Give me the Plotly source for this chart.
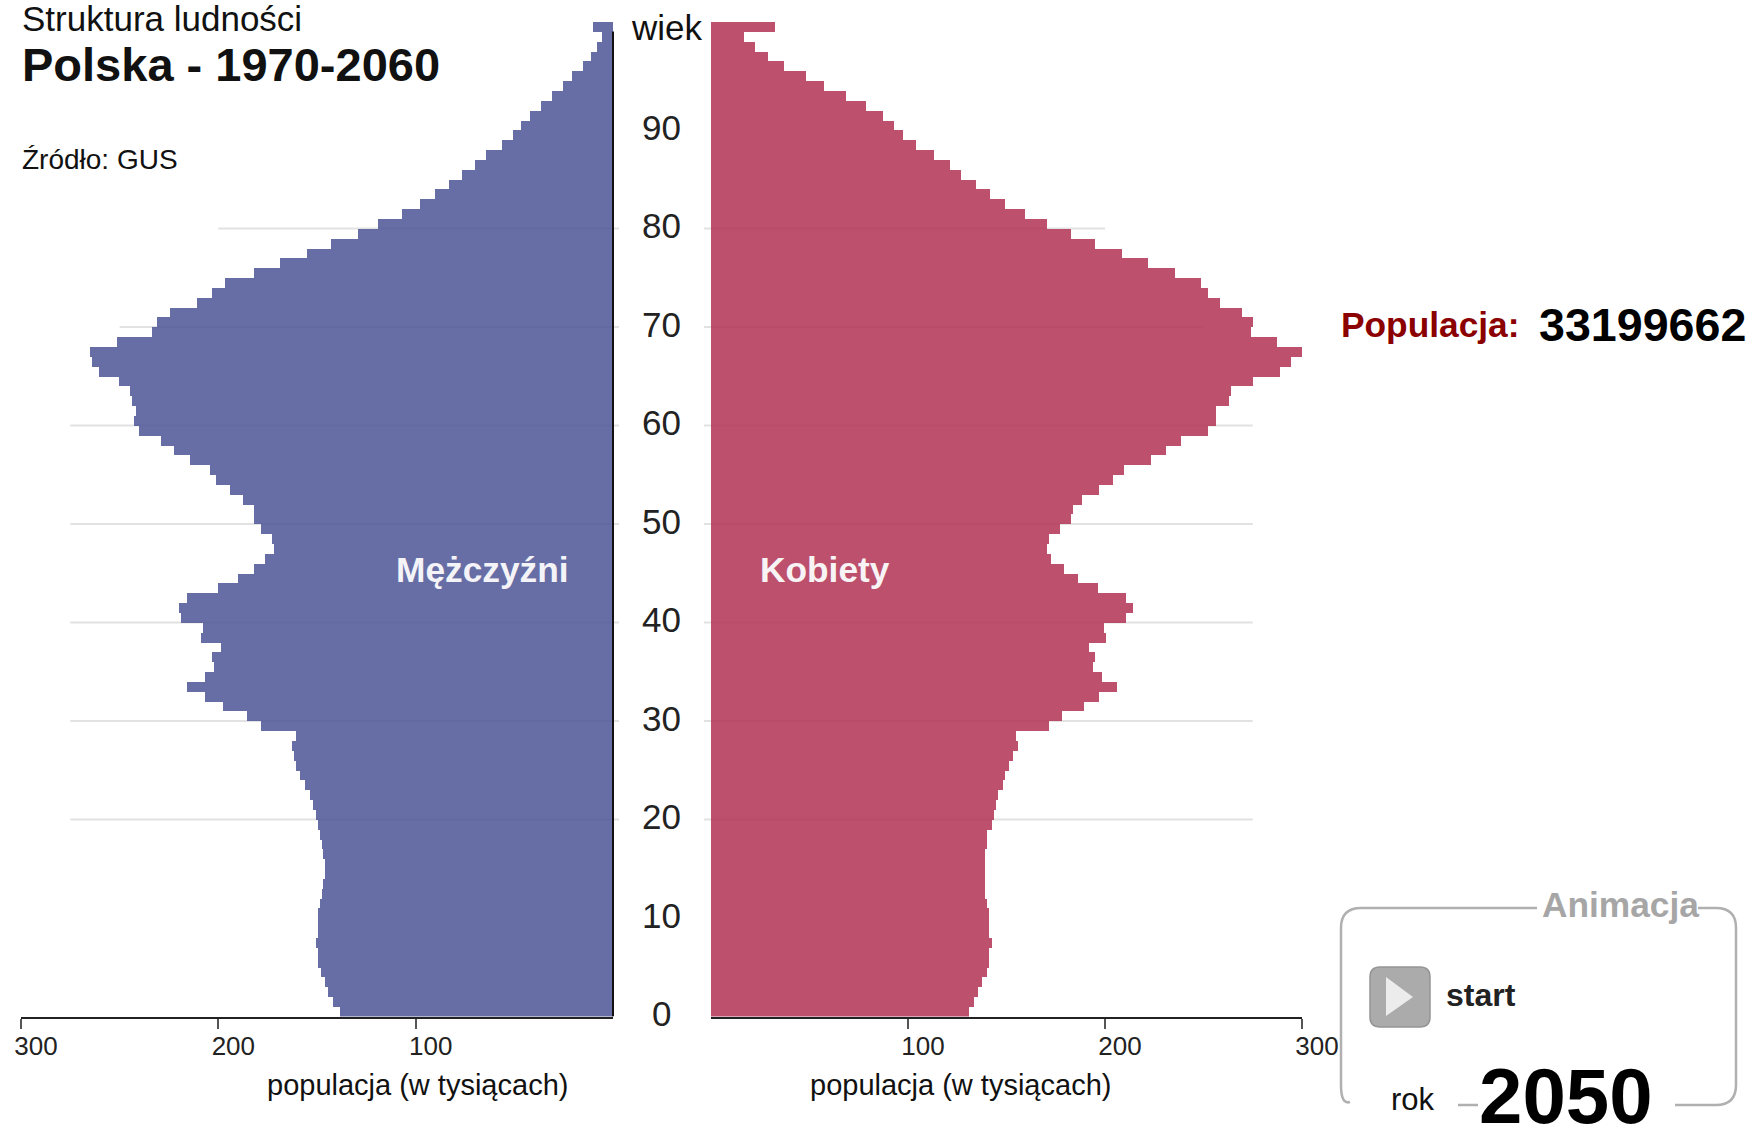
"""Piramida ludnosci Polski, rok 2050 (Plotly)."""

import plotly.graph_objects as go

WIDTH = 1753
HEIGHT = 1126

# wiek 0..100, populacja w tysiacach
men = [
    138.2, 141.8, 144.2, 146.2, 148.2, 149.6, 149.6, 150.6, 149.6, 149.6,
    149.4, 148.6, 147.6, 147.2, 146.2, 146.2, 146.8, 147.4, 148.4, 149.6,
    150.6, 152.2, 153.8, 156.2, 158.4, 160.6, 161.8, 162.9, 160.6, 178.5,
    185.3, 197.6, 206.6, 215.7, 206.6, 202.0, 203.2, 198.8, 208.8, 207.8,
    218.9, 220.1, 215.7, 200.0, 189.8, 181.9, 176.3, 171.9, 172.9, 178.5,
    181.9, 181.9, 187.6, 194.2, 201.0, 204.2, 214.5, 222.3, 228.9, 240.2,
    242.6, 241.6, 243.6, 244.6, 250.4, 260.4, 263.9, 264.9, 251.4, 233.5,
    231.3, 224.5, 211.0, 203.2, 196.4, 182.1, 168.5, 155.2, 142.8, 129.3,
    119.1, 106.8, 98.0, 90.0, 83.3, 76.5, 69.9, 64.3, 56.4, 50.8,
    46.4, 42.0, 36.3, 30.7, 25.1, 20.7, 15.1, 11.2, 8.2, 5.8,
    10.2,
]
women = [
    131.1, 133.3, 135.5, 137.8, 140.2, 141.2, 141.2, 142.4, 141.2, 141.2,
    141.2, 140.2, 139.0, 139.0, 139.0, 139.0, 139.0, 140.2, 140.2, 142.4,
    143.4, 144.6, 145.6, 148.0, 149.0, 151.2, 153.4, 155.8, 154.6, 171.5,
    178.1, 189.4, 197.2, 206.2, 198.4, 194.0, 195.0, 191.8, 200.6, 199.6,
    210.6, 214.1, 210.6, 196.2, 186.1, 179.3, 172.7, 170.5, 171.5, 177.1,
    182.7, 183.7, 188.4, 197.2, 204.0, 209.6, 223.1, 230.9, 238.8, 252.2,
    256.4, 256.4, 263.0, 264.0, 275.2, 288.7, 294.3, 301.2, 287.5, 274.2,
    275.2, 269.6, 258.6, 252.2, 248.8, 235.3, 221.9, 208.4, 195.0, 182.7,
    170.5, 159.2, 149.2, 141.4, 134.3, 126.7, 121.1, 113.3, 104.2, 97.6,
    93.0, 87.3, 78.5, 68.5, 57.2, 48.2, 36.9, 29.1, 22.3, 16.9,
    32.3,
]
ages = list(range(101))
age_ticks = [0, 10, 20, 30, 40, 50, 60, 70, 80, 90]
pop_ticks = [100, 200, 300]
grid_ages = [20, 30, 40, 50, 60, 70, 80]
grid_reach = [275, 275, 275, 275, 275, 250, 200]

BLUE = "rgba(76, 85, 151, 0.85)"
RED = "rgba(177, 49, 82, 0.85)"
GREY = "#b0b0b0"
FONT = "Liberation Sans"

# granice paneli w pikselach strony
LEFT_X0, LEFT_X1 = 21, 613
RIGHT_X0, RIGHT_X1 = 711, 1302
PLOT_TOP, PLOT_BOTTOM = 21.7, 1016.5


def px(x):
    return x / WIDTH


def py(y):
    return 1 - y / HEIGHT


def left_px(value):
    return LEFT_X1 - value * (LEFT_X1 - LEFT_X0) / 300


def right_px(value):
    return RIGHT_X0 + value * (RIGHT_X1 - RIGHT_X0) / 300


def label(text, x, y, size, color="#111111", bold=False, anchor="left"):
    return dict(
        text=f"<b>{text}</b>" if bold else text,
        xref="paper", yref="paper",
        x=px(x), y=py(y),
        xanchor=anchor, yanchor="middle",
        showarrow=False, borderpad=0,
        font=dict(family=FONT, size=size, color=color),
    )


fig = go.Figure()
bar_y = [a + 0.5 for a in ages]
fig.add_trace(go.Bar(
    x=men, y=bar_y, orientation="h", width=1, name="Mężczyźni",
    marker=dict(color=BLUE, line=dict(width=0)),
    xaxis="x", yaxis="y", showlegend=False, cliponaxis=False,
))
fig.add_trace(go.Bar(
    x=women, y=bar_y, orientation="h", width=1, name="Kobiety",
    marker=dict(color=RED, line=dict(width=0)),
    xaxis="x2", yaxis="y2", showlegend=False, cliponaxis=False,
))

shapes = []
for age, reach in zip(grid_ages, grid_reach):
    shapes.append(dict(
        type="line", layer="below", xref="paper", yref="y",
        x0=px(left_px(reach)), x1=px(619), y0=age, y1=age,
        line=dict(color="#e2e2e2", width=2),
    ))
    shapes.append(dict(
        type="line", layer="below", xref="paper", yref="y",
        x0=px(704), x1=px(right_px(reach)), y0=age, y1=age,
        line=dict(color="#e2e2e2", width=2),
    ))
# pionowa os lewego panelu
shapes.append(dict(
    type="line", xref="paper", yref="y",
    x0=px(613), x1=px(613), y0=0, y1=100,
    line=dict(color="#111111", width=2),
))


def box_path():
    # ramka "Animacja" z przerwami na napisy
    l, r, t, b, c = px(1341), px(1736), py(908), py(1105), 20
    cx, cy = c / WIDTH, c / HEIGHT
    return (
        f"M {px(1537)} {t} L {l + cx} {t} Q {l} {t} {l} {t - cy} "
        f"L {l} {b + cy} Q {l} {b} {px(1350)} {py(1102)} "
        f"M {px(1458)} {b} L {px(1478)} {b} "
        f"M {px(1675)} {b} L {r - cx} {b} Q {r} {b} {r} {b + cy} "
        f"L {r} {t - cy} Q {r} {t} {r - cx} {t} L {px(1698)} {t}"
    )


def button_path():
    l, r, t, b, c = px(1370), px(1430), py(967), py(1027), 10
    cx, cy = c / WIDTH, c / HEIGHT
    return (
        f"M {l + cx} {t} L {r - cx} {t} Q {r} {t} {r} {t - cy} "
        f"L {r} {b + cy} Q {r} {b} {r - cx} {b} L {l + cx} {b} "
        f"Q {l} {b} {l} {b + cy} L {l} {t - cy} Q {l} {t} {l + cx} {t} Z"
    )


shapes.append(dict(type="path", xref="paper", yref="paper", path=box_path(),
                   line=dict(color=GREY, width=2.5)))
shapes.append(dict(type="path", xref="paper", yref="paper", path=button_path(),
                   fillcolor="#ababab", line=dict(color="#959595", width=1.5)))
shapes.append(dict(
    type="path", xref="paper", yref="paper",
    path=(f"M {px(1386)} {py(977)} L {px(1413)} {py(997)} "
          f"L {px(1386)} {py(1016)} Z"),
    fillcolor="#ececec", line=dict(width=0),
))

annotations = [
    label("Struktura ludności", 21, 18, 35),
    label("Polska - 1970-2060", 21, 65, 47, bold=True),
    label("Źródło: GUS", 21, 159, 28),
    label("Mężczyźni", 395, 569, 35.3, color="#f4f4f8", bold=True),
    label("Kobiety", 759, 569, 35.3, color="#f8f4f5", bold=True),
    label("populacja (w tysiącach)", 417, 1085, 29, anchor="center"),
    label("populacja (w tysiącach)", 960, 1085, 29, anchor="center"),
    label("wiek", 667, 28, 35, anchor="center"),
    label("Populacja:", 1340, 324, 35.3, color="#8b0000", bold=True),
    label("33199662", 1538, 325, 46.6, color="#000000", bold=True),
    label("Animacja", 1541, 904, 35.3, color="#a6a6a6", bold=True),
    label("start", 1445, 995, 32, color="#222222", bold=True),
    label("rok", 1390, 1099, 31),
    label("2050", 1478, 1096, 78, color="#000000", bold=True),
]
for tick in age_ticks:
    annotations.append(dict(
        text=str(tick), xref="paper", yref="y", x=px(661), y=tick,
        yshift=3, xanchor="center", yanchor="middle", showarrow=False,
        font=dict(family=FONT, size=35, color="#222222"),
    ))

x_axis = dict(
    tickmode="array", tickvals=pop_ticks, ticktext=[str(t) for t in pop_ticks],
    ticks="outside", ticklen=10, tickwidth=2, tickcolor="#555555",
    ticklabelstandoff=-5, ticklabeloverflow="allow",
    tickfont=dict(family=FONT, size=26, color="#222222"),
    showgrid=False, zeroline=False, showline=True,
    linecolor="#222222", linewidth=2, layer="below traces",
    anchor="y",
)
y_axis = dict(range=[0, 101], visible=False,
              domain=[py(PLOT_BOTTOM), py(PLOT_TOP)])

fig.update_layout(
    width=WIDTH,
    height=HEIGHT,
    autosize=False,
    margin=dict(l=0, r=0, t=0, b=0, pad=0, autoexpand=False),
    paper_bgcolor="white",
    plot_bgcolor="rgba(0,0,0,0)",
    font=dict(family=FONT),
    bargap=0,
    # os odwrocona, wiec przesuniecie etykiet ma przeciwny znak
    xaxis={**x_axis, "domain": [px(LEFT_X0), px(LEFT_X1)], "range": [300, 0],
           "ticklabelshift": -15},
    xaxis2={**x_axis, "domain": [px(RIGHT_X0), px(RIGHT_X1)], "range": [0, 300],
            "ticklabelshift": 15, "anchor": "y2"},
    yaxis=y_axis,
    yaxis2={**y_axis, "anchor": "x2"},
    shapes=shapes,
    annotations=annotations,
)

fig.write_html("out.html", config={"displayModeBar": False},
               post_script="document.body.style.margin='0';")
